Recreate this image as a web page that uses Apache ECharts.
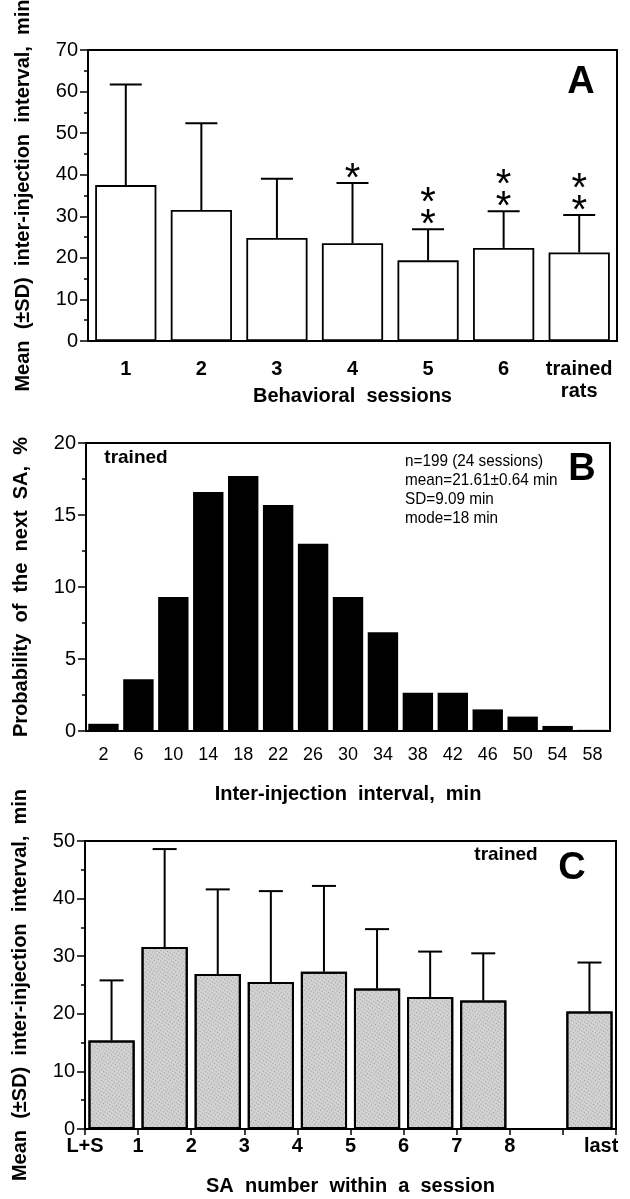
<!DOCTYPE html>
<html><head><meta charset="utf-8">
<script src="https://cdn.jsdelivr.net/npm/echarts@6/dist/echarts.min.js"></script>
<style>html,body{margin:0;padding:0;background:#fff}#c{width:630px;height:1199px}</style>
</head><body><div id="c"></div>
<script>
// ---------- Panel A ----------
const sessionsA = ['1', '2', '3', '4', '5', '6', 'trained\nrats'];
const meanA = [37.5, 31.5, 24.8, 23.5, 19.4, 22.4, 21.3];
const sdTopA = [61.7, 52.4, 39.0, 38.0, 26.9, 31.2, 30.3];
const starsA = [0, 0, 0, 1, 2, 2, 2];

// ---------- Panel B ----------
const binsB = ['2', '6', '10', '14', '18', '22', '26', '30', '34', '38', '42', '46', '50', '54', '58'];
const probB = [0.5, 3.6, 9.3, 16.6, 17.7, 15.7, 13.0, 9.3, 6.85, 2.66, 2.66, 1.5, 1.0, 0.35, 0.08];
const statsB = ['n=199 (24 sessions)', 'mean=21.61\u00b10.64 min', 'SD=9.09 min', 'mode=18 min'];

// ---------- Panel C ----------
const slotsC = ['L+S', '1', '2', '3', '4', '5', '6', '7', '', 'last'];
const meanC = [15.35, 31.6, 26.9, 25.5, 27.3, 24.4, 22.9, 22.3, null, 20.4];
const sdTopC = [25.8, 48.6, 41.6, 41.3, 42.2, 34.7, 30.8, 30.5, null, 28.9];
const tickLabelsC = ['L+S', '1', '2', '3', '4', '5', '6', '7', '8', 'last'];

const FONT = '"Liberation Sans", Arial, sans-serif';
const YNAME = 'Mean  (\u00b1SD)  inter-injection  interval,  min';

const chart = echarts.init(document.getElementById('c'), null, {renderer: 'canvas'});

function yAxisCfg(gi, max, name) {
  return {
    type: 'value', gridIndex: gi, min: 0, max: max, interval: max === 20 ? 5 : 10,
    name: name, nameLocation: 'middle', nameGap: 55, nameRotate: 90, nameMoveOverlap: false,
    nameTextStyle: {fontFamily: FONT, fontWeight: 'bold', fontSize: 20, color: '#000'},
    axisLine: {show: true, lineStyle: {color: '#000', width: 2}},
    axisTick: {show: true, inside: false, length: 8, lineStyle: {color: '#000', width: 1.5}},
    minorTick: {show: true, splitNumber: 2, length: 4, lineStyle: {color: '#000', width: 1.5}},
    splitLine: {show: false},
    axisLabel: {fontFamily: FONT, fontSize: 20, color: '#000', margin: 10}
  };
}

function errRender(cap) {
  return function (params, api) {
    const x = api.value(0), m = api.value(1), t = api.value(2);
    const a = api.coord([x, m]), b = api.coord([x, t]);
    const st = {stroke: '#000', lineWidth: 2};
    return {type: 'group', children: [
      {type: 'line', shape: {x1: a[0], y1: a[1], x2: b[0], y2: b[1]}, style: st},
      {type: 'line', shape: {x1: b[0] - cap / 2, y1: b[1], x2: b[0] + cap / 2, y2: b[1]}, style: st}
    ]};
  };
}

function starRender(params, api) {
  const x = api.value(0), t = api.value(1), n = api.value(2);
  const p = api.coord([x, t]);
  const kids = [];
  for (let k = 0; k < n; k++) {
    kids.push({type: 'text', x: p[0], y: p[1] - 3 - 22 * k,
      style: {text: '*', font: '40px ' + FONT, fill: '#000', align: 'center', verticalAlign: 'middle'}});
  }
  return {type: 'group', children: kids};
}

const errA = meanA.map((m, i) => [i, m, sdTopA[i]]);
const starDataA = starsA.map((n, i) => [i, sdTopA[i], n]).filter(d => d[2] > 0);
const errC = meanC.map((m, i) => [i, m, sdTopC[i]]).filter(d => d[1] != null);
const labelPosC = tickLabelsC.map((t, i) => (t === 'last' ? 9.72 : i));

const gridBase = {show: true, borderColor: '#000', borderWidth: 2, backgroundColor: 'transparent', outerBoundsMode: 'none', containLabel: false};

const option = {
  backgroundColor: '#fff',
  animation: false,
  grid: [
    Object.assign({left: 88, right: 13, top: 50, height: 291}, gridBase),
    Object.assign({left: 86, right: 20, top: 443, height: 288}, gridBase),
    Object.assign({left: 85, right: 14, top: 841, height: 288}, gridBase)
  ],
  xAxis: [
    {
      type: 'category', gridIndex: 0, data: sessionsA, position: 'bottom',
      name: 'Behavioral  sessions', nameLocation: 'middle', nameGap: 45, nameMoveOverlap: false,
      nameTextStyle: {fontFamily: FONT, fontWeight: 'bold', fontSize: 20, color: '#000'},
      axisLine: {lineStyle: {color: '#000', width: 2}},
      axisTick: {length: 5, lineStyle: {color: '#000', width: 1.5}},
      axisLabel: {interval: 0, fontFamily: FONT, fontWeight: 'bold', fontSize: 20, color: '#000', margin: 17, lineHeight: 22}
    },
    {
      type: 'category', gridIndex: 1, data: binsB, position: 'bottom',
      name: 'Inter-injection  interval,  min', nameLocation: 'middle', nameGap: 53, nameMoveOverlap: false,
      nameTextStyle: {fontFamily: FONT, fontWeight: 'bold', fontSize: 20, color: '#000'},
      axisLine: {lineStyle: {color: '#000', width: 2}},
      axisTick: {length: 5, lineStyle: {color: '#000', width: 1.5}},
      axisLabel: {interval: 0, fontFamily: FONT, fontSize: 18, color: '#000', margin: 15}
    },
    {
      type: 'category', gridIndex: 2, data: slotsC, position: 'bottom', show: false
    },
    {
      type: 'value', gridIndex: 2, min: 0, max: 10, interval: 1, position: 'bottom', offset: 0,
      name: 'SA  number  within  a  session', nameLocation: 'middle', nameGap: 47, nameMoveOverlap: false,
      nameTextStyle: {fontFamily: FONT, fontWeight: 'bold', fontSize: 20, color: '#000'},
      axisLine: {show: true, onZero: false, lineStyle: {color: '#000', width: 2}},
      axisTick: {show: true, length: 6, lineStyle: {color: '#000', width: 1.5}},
      splitLine: {show: false},
      axisLabel: {
        fontFamily: FONT, fontWeight: 'bold', fontSize: 20, color: '#000', margin: 7,
        customValues: labelPosC,
        formatter: function (v) {
          const i = labelPosC.findIndex(p => Math.abs(p - v) < 1e-6);
          return i >= 0 ? tickLabelsC[i] : '';
        }
      }
    }
  ],
  yAxis: [
    yAxisCfg(0, 70, YNAME),
    yAxisCfg(1, 20, 'Probability  of  the  next  SA,  %'),
    yAxisCfg(2, 50, YNAME)
  ],
  series: [
    {type: 'bar', xAxisIndex: 0, yAxisIndex: 0, data: meanA, barCategoryGap: '19%',
      itemStyle: {color: '#fff', borderColor: '#000', borderWidth: 1.8}},
    {type: 'custom', xAxisIndex: 0, yAxisIndex: 0, data: errA, renderItem: errRender(32), z: 5},
    {type: 'custom', xAxisIndex: 0, yAxisIndex: 0, data: starDataA, renderItem: starRender, z: 5},
    {type: 'bar', xAxisIndex: 1, yAxisIndex: 1, data: probB, barCategoryGap: '13%',
      itemStyle: {color: '#000'}},
    {type: 'bar', xAxisIndex: 2, yAxisIndex: 2, data: meanC, barCategoryGap: '13%',
      itemStyle: {color: '#d2d2d2', borderColor: '#000', borderWidth: 2,
        decal: {symbol: 'rect', symbolSize: 1, color: 'rgba(100,100,100,0.5)', dashArrayX: [1, 2], dashArrayY: [1, 2], rotation: 0.6}}},
    {type: 'custom', xAxisIndex: 2, yAxisIndex: 2, data: errC, renderItem: errRender(24), z: 5}
  ],
  graphic: [
    {type: 'text', x: 581, y: 83, style: {text: 'A', font: 'bold 38px ' + FONT, fill: '#000', align: 'center', verticalAlign: 'middle'}},
    {type: 'text', x: 582, y: 470, style: {text: 'B', font: 'bold 38px ' + FONT, fill: '#000', align: 'center', verticalAlign: 'middle'}},
    {type: 'text', x: 572, y: 869, style: {text: 'C', font: 'bold 38px ' + FONT, fill: '#000', align: 'center', verticalAlign: 'middle'}},
    {type: 'text', x: 136, y: 458, style: {text: 'trained', font: 'bold 19px ' + FONT, fill: '#000', align: 'center', verticalAlign: 'middle'}},
    {type: 'text', x: 506, y: 855, style: {text: 'trained', font: 'bold 19px ' + FONT, fill: '#000', align: 'center', verticalAlign: 'middle'}},
    {type: 'text', x: 405, y: 452, scaleX: 0.9, style: {text: statsB.join('\n'), font: '17px ' + FONT, lineHeight: 19, fill: '#000', align: 'left', verticalAlign: 'top'}}
  ]
};
chart.setOption(option);
</script></body></html>
